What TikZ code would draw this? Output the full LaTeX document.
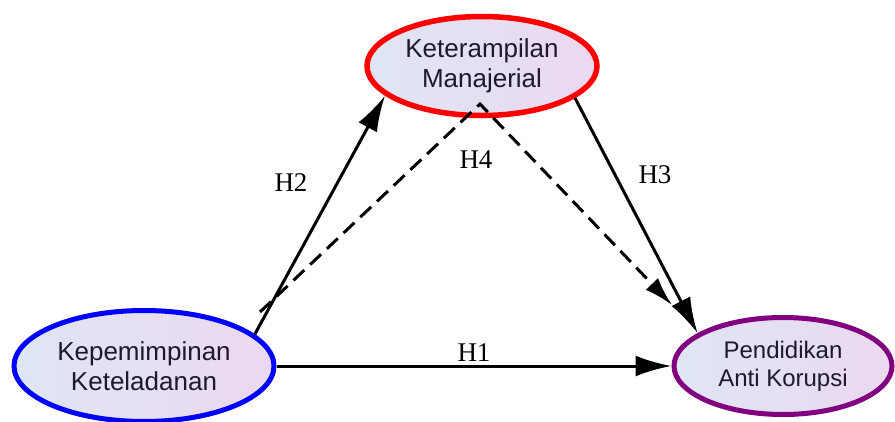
\documentclass[tikz,border=0pt]{standalone}
\usepackage{fontspec}
\newfontfamily\varfont{Liberation Sans}
\newfontfamily\hypfont{Liberation Serif}
\usetikzlibrary{arrows.meta,shapes.geometric}
\definecolor{varleft}{RGB}{222,230,243}
\definecolor{varright}{RGB}{236,216,240}
\definecolor{vartext}{RGB}{30,25,45}
\definecolor{kpurple}{RGB}{128,0,128}

\begin{document}
\begin{tikzpicture}[x=1pt,y=-1pt,
  latent/.style={draw, ellipse, line width=5pt, left color=varleft, right color=varright,
    align=center, text=vartext, inner sep=0pt, font=\varfont\fontsize{26}{30}\selectfont},
  effect/.style={line width=3pt, -{Latex[length=36pt,width=21pt]}},
  mediated/.style={line width=3pt, dash pattern=on 15pt off 8pt, -{Latex[length=29pt,width=17pt]}},
  hlabel/.style={font=\hypfont\fontsize{27}{30}\selectfont},
]
\useasboundingbox (0,0) rectangle (895,421);

\node[latent, draw=red, line width=5.5pt, minimum width=230pt, minimum height=99pt] (ket) at (482,66) {Keterampilan\\Manajerial};
\node[latent, draw=blue, minimum width=260pt, minimum height=111pt] (kep) at (144,366) {Kepemimpinan\\Keteladanan};
\node[latent, draw=kpurple, minimum width=218pt, minimum height=97pt,
  font=\varfont\fontsize{24}{28}\selectfont] (pend) at (783,366) {Pendidikan\\Anti Korupsi};

% mediation route
\coordinate (h4s) at (260,312);
\coordinate (apex) at (480,104);
\coordinate (h4e) at (672,305);

\draw[effect] (kep.east) -- node[above, hlabel] (h1) {H1} (pend.west);
\draw[effect] (kep.16) -- (ket.197);
\draw[effect] (ket.341) -- (pend.159);
\draw[mediated] (h4s) -- (apex) -- (h4e);

\node[hlabel] (h2) at (291,183) {H2};
\node[hlabel] (h3) at (655,175) {H3};
\node[hlabel] (h4) at (476,160) {H4};
\end{tikzpicture}
\end{document}
